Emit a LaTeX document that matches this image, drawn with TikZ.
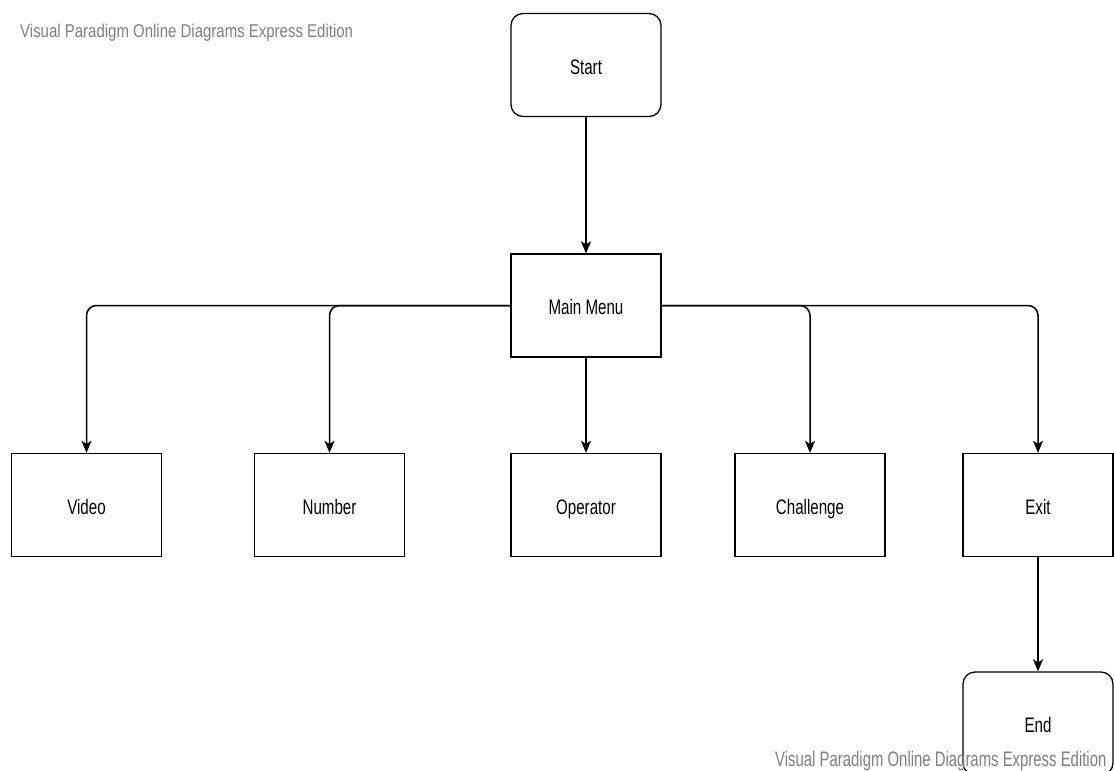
\documentclass[tikz,border=0pt]{standalone}
\usepackage{fontspec}
\setmainfont{Liberation Sans}
\newfontfamily\labelfont{Liberation Sans}[FakeStretch=0.72]
\newfontfamily\markfont{Liberation Sans}[FakeStretch=0.81]
\newfontfamily\markfontb{Liberation Sans}[FakeStretch=0.71]
\usetikzlibrary{arrows.meta}
\begin{document}
\begin{tikzpicture}[x=1pt,y=-1pt,
  box/.style={draw, line width=1.3pt, minimum width=150pt, minimum height=103pt,
    inner sep=0pt, font=\labelfont\fontsize{21}{24}\selectfont, text=black,
    text height=18pt, text depth=0pt},
  term/.style={box, rounded corners=12pt},
  arr/.style={draw, line width=1.5pt, rounded corners=10pt,
    -{Stealth[length=12pt,width=10pt,inset=3pt]}},
  wm/.style={text=black!50, inner sep=0pt, anchor=west}]
\useasboundingbox (0,0) rectangle (1114,771);
\clip (0,0) rectangle (1114,771);
\fill[white] (0,0) rectangle (1114,771);

% flow nodes
\node[term] (start) at (586,65) {Start};
\node[box]  (mm)    at (586,305.5) {Main Menu};
\node[box]  (video) at (86.5,505) {Video};
\node[box]  (num)   at (329.5,505) {Number};
\node[box]  (op)    at (586,505) {Operator};
\node[box]  (chal)  at (810,505) {Challenge};
\node[box]  (exit)  at (1038,505) {Exit};
\node[term] (end)   at (1038,723.5) {End};

% connectors
\draw[arr] (start) -- (mm);
\draw[arr] (mm.west) -| (video.north);
\draw[arr] (mm.west) -| (num.north);
\draw[arr] (mm) -- (op);
\draw[arr] (mm.east) -| (chal.north);
\draw[arr] (mm.east) -| (exit.north);
\draw[arr] (exit) -- (end);

% edition marks
\node[wm, font=\markfont\fontsize{18.5}{20}\selectfont] (wm1) at (20,33)
  {Visual Paradigm Online Diagrams Express Edition};
\node[wm, font=\markfontb\fontsize{21}{24}\selectfont] (wm2) at (775,761)
  {Visual Paradigm Online Diagrams Express Edition};
\end{tikzpicture}
\end{document}
